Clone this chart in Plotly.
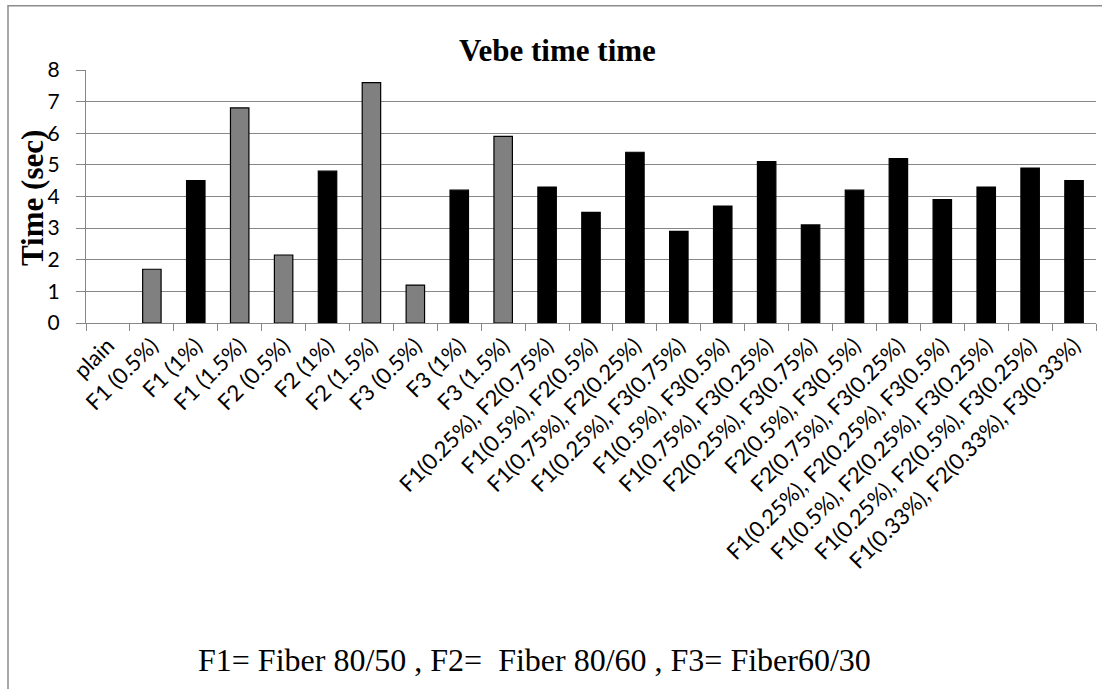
import plotly.graph_objects as go

categories = [
    "plain", "F1 (0.5%)", "F1 (1%)", "F1 (1.5%)", "F2 (0.5%)", "F2 (1%)", "F2 (1.5%)",
    "F3 (0.5%)", "F3 (1%)", "F3 (1.5%)",
    "F1(0.25%), F2(0.75%)", "F1(0.5%), F2(0.5%)", "F1(0.75%), F2(0.25%)",
    "F1(0.25%), F3(0.75%)", "F1(0.5%), F3(0.5%)", "F1(0.75%), F3(0.25%)",
    "F2(0.25%), F3(0.75%)", "F2(0.5%), F3(0.5%)", "F2(0.75%), F3(0.25%)",
    "F1(0.25%), F2(0.25%), F3(0.5%)", "F1(0.5%), F2(0.25%), F3(0.25%)",
    "F1(0.25%), F2(0.5%), F3(0.25%)", "F1(0.33%), F2(0.33%), F3(0.33%)",
]
vebe_time = [0, 1.7, 4.5, 6.8, 2.15, 4.8, 7.6, 1.2, 4.2, 5.9,
             4.3, 3.5, 5.4, 2.9, 3.7, 5.1, 3.1, 4.2, 5.2, 3.9, 4.3, 4.9, 4.5]
# gray marks the 0.5% and 1.5% single-fibre mixes
bar_colors = ["#000000", "#808080", "#000000", "#808080", "#808080", "#000000", "#808080",
              "#808080", "#000000", "#808080"] + ["#000000"] * 13

W, H = 1102, 689
ML, MR, MT, MB = 86, 6, 69.5, 365.5
PW, PH = W - ML - MR, H - MT - MB


def px_x(px):
    return (px - ML) / PW


def px_y(py):
    return (H - MB - py) / PH


# no outline on an empty (zero-height) bar
outline_w = [0 if v == 0 else 1.2 for v in vebe_time]

fig = go.Figure(go.Bar(
    x=categories, y=vebe_time,
    marker=dict(color=bar_colors, line=dict(color="#000000", width=outline_w)),
))

grid = "#878787"
fig.update_layout(
    width=W, height=H,
    margin=dict(l=ML, r=MR, t=MT, b=MB),
    paper_bgcolor="white", plot_bgcolor="white",
    showlegend=False,
    bargap=0.58,
    xaxis=dict(
        type="category", tickangle=-45, tickson="boundaries",
        ticks="outside", ticklen=7, tickcolor=grid, tickwidth=1.3,
        showline=True, linecolor=grid, linewidth=1.3, showgrid=False,
        tickfont=dict(family="Lato", size=22, color="#000000"),
    ),
    yaxis=dict(
        range=[0, 8], dtick=1, tick0=0,
        ticks="outside", ticklen=9, tickcolor=grid, tickwidth=1.3,
        ticklabelstandoff=12,
        showline=True, linecolor=grid, linewidth=1.3,
        showgrid=True, gridcolor=grid, gridwidth=1.3,
        zeroline=False,
        tickfont=dict(family="Lato", size=21, color="#000000"),
    ),
    annotations=[
        dict(text="<b>Vebe time time</b>", xref="paper", yref="paper",
             x=px_x(557), y=px_y(50), xanchor="center", yanchor="middle",
             showarrow=False,
             font=dict(family="Liberation Serif", size=31, color="#000000")),
        dict(text="<b>Time (sec)</b>", xref="paper", yref="paper",
             x=px_x(33), y=px_y(198), xanchor="center", yanchor="middle",
             textangle=-90, showarrow=False,
             font=dict(family="Liberation Serif", size=31, color="#000000")),
        dict(text="F1= Fiber 80/50 , F2=&nbsp; Fiber 80/60 , F3= Fiber60/30",
             xref="paper", yref="paper",
             x=px_x(534), y=px_y(662), xanchor="center", yanchor="middle",
             showarrow=False,
             font=dict(family="Liberation Serif", size=32, color="#000000")),
    ],
    shapes=[
        dict(type="path", xref="paper", yref="paper",
             path=f"M {px_x(8)},{px_y(720)} L {px_x(8)},{px_y(5)} L {px_x(1120)},{px_y(5)}",
             line=dict(color="#8c8c8c", width=1.5)),
    ],
)

fig.write_html("out.html")
